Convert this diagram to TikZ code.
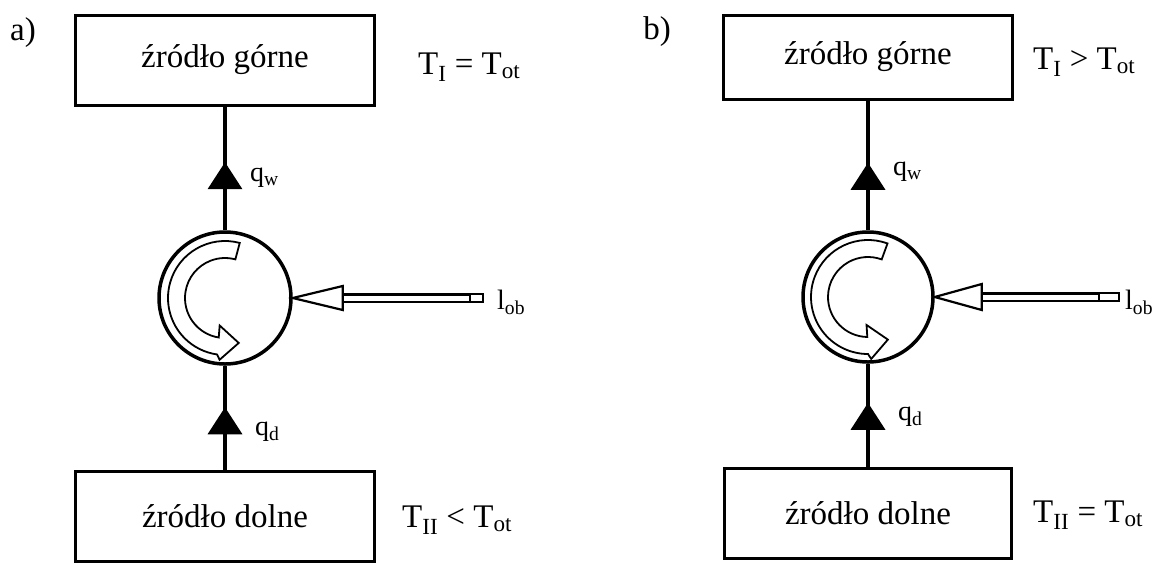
\documentclass[tikz,border=0pt]{standalone}
\usepackage{fontspec}
\setmainfont{Liberation Serif}
\usepackage{tikz}
\usetikzlibrary{arrows.meta,positioning,calc,decorations.markings}
\newcommand{\bigtxt}{\fontsize{33}{38}\selectfont}
\newcommand{\lbltxt}{\fontsize{28}{32}\selectfont}
% hollow curved arrow inside the pump circle: centre, top angle, head angle
\newcommand{\swirl}[3]{%
  \begin{scope}[shift={(#1)}, x=1pt, y=1pt]
    \draw[curl] (#2:57) arc[start angle=#2, end angle=#3, radius=57]
      -- ({#3+3}:62) -- ({#3+25}:47) -- ({#3-3}:28) -- ({#3-1}:40)
      arc[start angle={#3-1}, end angle=#2, radius=40] -- cycle;
  \end{scope}}

\begin{document}
\begin{tikzpicture}[x=1pt, y=-1pt, >=Stealth,
  src/.style={draw, line width=3pt, minimum width=299pt, minimum height=90pt,
              inner sep=0pt, font=\bigtxt},
  eq/.style={anchor=west, inner sep=0pt, font=\bigtxt},
  sym/.style={anchor=west, inner sep=0pt, font=\lbltxt},
  pump/.style={draw, circle, line width=3.5pt, minimum size=#1, inner sep=0pt},
  flow/.style={line width=3.5pt},
  midtip/.style={postaction={decorate}, decoration={markings,
      mark=at position #1 with {\arrow{Triangle[length=27pt,width=34pt]}}}},
  curl/.style={line width=1.8pt, fill=white},
  shaft/.style={double, double distance=5pt, line width=2.2pt},
  head/.style={line width=2.2pt, fill=white, line join=miter}]
  \useasboundingbox (0,0) rectangle (1170,563);

  % a) heat source temperature equal to T_ot
  \node[font=\bigtxt] (labA) at (23,33) {a)};
  \node[src] (topA) at (225,60) {źródło górne};
  \node[eq] (eqTopA) at (418,67) {T\textsubscript{I} = T\textsubscript{ot}};
  \node[pump=132pt] (circA) at (225,298) {};
  \node[src] (botA) at (225,516) {źródło dolne};
  \node[eq] (eqBotA) at (402,520) {T\textsubscript{II} < T\textsubscript{ot}};
  \node[sym] (qwA) at (250,178) {q\textsubscript{w}};
  \node[sym] (qdA) at (255,432) {q\textsubscript{d}};
  \node[sym] (lobA) at (497,302) {l\textsubscript{ob}};
  \draw[flow, midtip=0.55] (circA) -- (topA);
  \draw[flow, midtip=0.6] (botA) -- (circA);
  \swirl{circA.center}{75}{262}
  \coordinate (baseA) at ($(circA.east)+(50,0)$);
  \coordinate (tailA) at ($(circA.east -| lobA.west)+(-14,0)$);
  \draw[shaft] ($(tailA)+(-13,0)$) -- (baseA);
  \draw[line width=2pt, fill=white] ($(tailA)+(-13,-4)$) rectangle ($(tailA)+(0,4)$);
  \draw[head] (circA.east) -- ($(baseA)+(0,-12)$) -- ($(baseA)+(0,12)$) -- cycle;

  % b) heat sink temperature equal to T_ot
  \node[font=\bigtxt] (labB) at (657,32) {b)};
  \node[src, minimum width=289pt, minimum height=84pt] (topB) at (868,57) {źródło górne};
  \node[eq] (eqTopB) at (1033,62) {T\textsubscript{I} > T\textsubscript{ot}};
  \node[pump=130pt] (circB) at (868,297) {};
  \node[src, minimum width=287pt] (botB) at (868,513) {źródło dolne};
  \node[eq] (eqBotB) at (1033,515) {T\textsubscript{II} = T\textsubscript{ot}};
  \node[sym] (qwB) at (893,172) {q\textsubscript{w}};
  \node[sym] (qdB) at (898,417) {q\textsubscript{d}};
  \node[sym] (lobB) at (1125,302) {l\textsubscript{ob}};
  \draw[flow, midtip=0.52] (circB) -- (topB);
  \draw[flow, midtip=0.62] (botB) -- (circB);
  \swirl{circB.center}{70}{270}
  \coordinate (baseB) at ($(circB.east)+(47,0)$);
  \coordinate (tailB) at ($(circB.east -| lobB.west)+(-6,0)$);
  \draw[shaft] ($(tailB)+(-20,0)$) -- (baseB);
  \draw[line width=2pt, fill=white] ($(tailB)+(-20,-4)$) rectangle ($(tailB)+(0,4)$);
  \draw[head] (circB.east) -- ($(baseB)+(0,-13)$) -- ($(baseB)+(0,13)$) -- cycle;
\end{tikzpicture}
\end{document}
